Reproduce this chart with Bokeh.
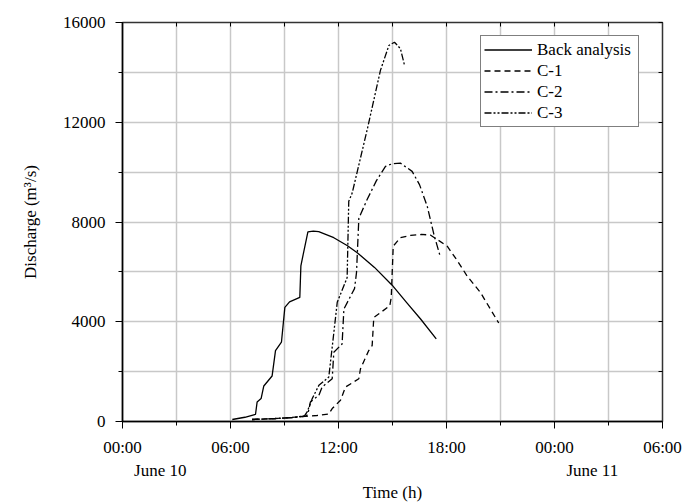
from bokeh.plotting import figure
from bokeh.models import FixedTicker, LinearAxis, Legend, LegendItem, Range1d, Grid
from bokeh.embed import file_html
from bokeh.resources import INLINE

# ---- data (time in hours from 00:00 June 10, discharge in m3/s) ----
t_back = [6.1, 6.8, 7.39, 7.48, 7.7, 7.85, 8.31, 8.5, 8.83, 9.02, 9.28, 9.85, 9.91, 10.02,
          10.3, 10.6, 10.9, 11.74, 12.5, 13.04, 14.0, 14.98, 15.8, 16.56, 17.43]
q_back = [80, 170, 290, 785, 918, 1425, 1823, 2845, 3180, 4577, 4800, 4975, 6236, 6635,
          7600, 7630, 7610, 7370, 7050, 6770, 6180, 5466, 4760, 4110, 3310]

t_c1 = [7.2, 8.5, 9.9, 10.8, 11.46, 11.65, 12.11, 12.39, 13.13, 13.22, 13.68, 13.87, 13.96,
        14.85, 14.93, 15.04, 15.44, 16.0, 16.6, 17.1, 17.48, 18.04, 18.6, 19.15, 19.89, 20.9]
q_c1 = [80, 120, 190, 240, 300, 520, 850, 1383, 1715, 2110, 2845, 3045, 4170,
        4640, 4975, 7030, 7370, 7460, 7500, 7480, 7300, 7030, 6450, 5830, 5170, 3950]

t_c2 = [7.2, 8.5, 9.5, 10.2, 10.3, 10.44, 10.91, 11.09, 11.65, 11.74, 12.2, 12.3, 12.89,
        13.0, 13.13, 13.59, 14.1, 14.61, 15.0, 15.44, 16.09, 16.5, 16.93, 17.3, 17.67]
q_c2 = [80, 120, 160, 220, 300, 785, 1050, 1383, 1715, 2780, 3110, 4510, 5330,
        5970, 8150, 8900, 9650, 10230, 10340, 10360, 10030, 9500, 8630, 7500, 6570]

t_c3 = [7.2, 8.5, 9.5, 10.1, 10.26, 10.54, 10.91, 11.46, 11.65, 11.93, 12.48, 12.57, 12.76,
        13.59, 14.33, 14.8, 15.11, 15.44, 15.68]
q_c3 = [80, 120, 160, 220, 385, 918, 1450, 1780, 2980, 4780, 5770, 8830, 9160,
        11690, 14080, 15080, 15210, 14950, 14250]

series_names = ["Back analysis", "C-1", "C-2", "C-3"]

x_ticks = [0, 6, 12, 18, 24, 30]
x_tick_labels = ["00:00", "06:00", "12:00", "18:00", "00:00", "06:00"]
x_minor = [3, 9, 15, 21, 27]
y_ticks = [0, 4000, 8000, 12000, 16000]
y_minor = [2000, 6000, 10000, 14000]

date_labels = ["June 10", "June 11"]
date_label_x = [2.1, 26.1]

FONT = "Liberation Serif"
FS = "17px"

p = figure(width=690, height=504, output_backend="svg", toolbar_location=None,
           x_range=Range1d(0, 30), y_range=Range1d(0, 16000),
           min_border_left=122, min_border_right=28, min_border_top=22, min_border_bottom=79)
p.xaxis.visible = False
p.yaxis.visible = False
p.xgrid.visible = False
p.ygrid.visible = False
p.background_fill_color = "white"
p.outline_line_color = "#333333"
p.outline_line_width = 1.5

xt = FixedTicker(ticks=x_ticks, minor_ticks=x_minor)
yt = FixedTicker(ticks=y_ticks, minor_ticks=y_minor)

xa = LinearAxis(ticker=xt,
                major_label_overrides={t: l for t, l in zip(x_ticks, x_tick_labels)})
ya = LinearAxis(ticker=yt, axis_label="Discharge (m\u00b3/s)")
for ax in (xa, ya):
    ax.axis_line_color = "black"
    ax.axis_line_width = 1.5
    ax.major_tick_in = 0
    ax.major_tick_out = 7
    ax.minor_tick_in = 0
    ax.minor_tick_out = 4
    ax.major_tick_line_color = "black"
    ax.minor_tick_line_color = "black"
    ax.major_label_text_font = FONT
    ax.major_label_text_font_size = FS
    ax.major_label_text_color = "black"
    ax.axis_label_text_font = FONT
    ax.axis_label_text_font_size = FS
    ax.axis_label_text_font_style = "normal"
    ax.axis_label_text_color = "black"
xa.major_label_standoff = 9
ya.major_label_standoff = 10
ya.axis_label_standoff = 20
p.add_layout(xa, "below")
p.add_layout(ya, "left")

# second bottom axis carrying the date labels and the axis title
da = LinearAxis(ticker=FixedTicker(ticks=date_label_x, minor_ticks=[]),
                major_label_overrides={t: l for t, l in zip(date_label_x, date_labels)},
                axis_label="Time (h)")
da.axis_line_color = None
da.major_tick_line_color = None
da.minor_tick_line_color = None
da.major_tick_in = 0
da.major_tick_out = 0
da.minor_tick_in = 0
da.minor_tick_out = 0
da.major_label_standoff = 1
da.major_label_text_font = FONT
da.major_label_text_font_size = FS
da.major_label_text_color = "black"
da.axis_label_standoff = 0
da.axis_label_text_font = FONT
da.axis_label_text_font_size = FS
da.axis_label_text_font_style = "normal"
da.axis_label_text_color = "black"
p.add_layout(da, "below")

for ticker, side in ((xt, "above"), (yt, "right")):
    ax = LinearAxis(ticker=ticker)
    ax.axis_line_color = "#333333"
    ax.major_tick_in = 4
    ax.major_tick_out = 0
    ax.minor_tick_in = 4
    ax.minor_tick_out = 0
    ax.major_label_text_font_size = "0px"
    ax.major_label_standoff = 0
    ax.major_label_text_color = None
    p.add_layout(ax, side)

gx = Grid(dimension=0, ticker=xt, grid_line_color="#c8c8c8", grid_line_width=1.5,
          minor_grid_line_color="#c8c8c8", minor_grid_line_width=1.5)
gy = Grid(dimension=1, ticker=yt, grid_line_color="#c8c8c8", grid_line_width=1.5,
          minor_grid_line_color="#c8c8c8", minor_grid_line_width=1.5)
p.add_layout(gx)
p.add_layout(gy)

r0 = p.line(t_back, q_back, line_color="black", line_width=1.3)
r1 = p.line(t_c1, q_c1, line_color="black", line_width=1.3, line_dash="6 4")
r2 = p.line(t_c2, q_c2, line_color="black", line_width=1.3, line_dash="8 3 2 3")
r3 = p.line(t_c3, q_c3, line_color="black", line_width=1.3, line_dash="7 2 2 2 2 2")

legend = Legend(items=[LegendItem(label=n, renderers=[r]) for n, r in zip(series_names, [r0, r1, r2, r3])],
                location=(358, 294), orientation="vertical")
legend.border_line_color = "black"
legend.border_line_width = 1.3
legend.background_fill_color = "white"
legend.background_fill_alpha = 1
legend.label_text_font = FONT
legend.label_text_font_size = FS
legend.label_text_color = "black"
legend.glyph_width = 48
legend.glyph_height = 21
legend.label_height = 21
legend.label_width = 98
legend.label_standoff = 5
legend.spacing = 0
legend.padding = 3
legend.margin = 0
p.add_layout(legend, "center")

open("out.html", "w").write(file_html(p, INLINE))
